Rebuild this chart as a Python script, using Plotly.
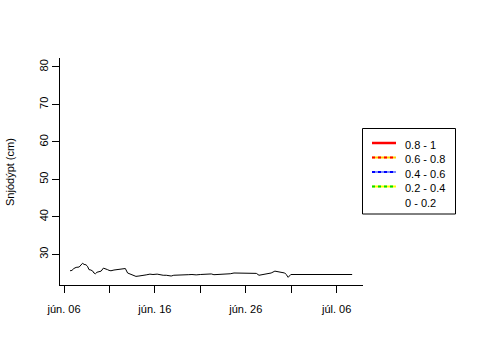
import plotly.graph_objects as go

# ---- data ----
times = [
    "2013-06-06 16:00", "2013-06-06 21:00", "2013-06-07 02:00", "2013-06-07 08:00",
    "2013-06-07 16:00", "2013-06-07 21:00", "2013-06-08 01:00", "2013-06-08 05:00",
    "2013-06-08 10:00", "2013-06-08 14:00", "2013-06-08 18:00", "2013-06-08 23:00",
    "2013-06-09 04:00", "2013-06-09 07:00", "2013-06-09 11:00", "2013-06-09 15:00",
    "2013-06-09 21:00", "2013-06-10 02:00", "2013-06-10 08:00", "2013-06-10 12:00",
    "2013-06-10 19:00", "2013-06-10 23:00", "2013-06-11 04:00", "2013-06-11 12:00",
    "2013-06-11 20:00", "2013-06-12 04:00", "2013-06-12 11:00", "2013-06-12 18:00",
    "2013-06-13 00:00", "2013-06-13 06:00", "2013-06-13 14:00", "2013-06-13 22:00",
    "2013-06-14 06:00", "2013-06-14 14:00", "2013-06-15 01:00", "2013-06-15 11:00",
    "2013-06-15 19:00", "2013-06-16 06:00", "2013-06-16 14:00", "2013-06-16 22:00",
    "2013-06-17 06:00", "2013-06-17 13:00", "2013-06-17 19:00", "2013-06-18 02:00",
    "2013-06-18 13:00", "2013-06-18 21:00", "2013-06-19 05:00", "2013-06-19 16:00",
    "2013-06-20 02:00", "2013-06-20 13:00", "2013-06-21 00:00", "2013-06-21 10:00",
    "2013-06-21 21:00", "2013-06-22 05:00", "2013-06-22 12:00", "2013-06-22 23:00",
    "2013-06-23 07:00", "2013-06-23 18:00", "2013-06-24 07:00", "2013-06-24 17:00",
    "2013-06-25 09:00", "2013-06-26 01:00", "2013-06-26 17:00", "2013-06-27 04:00",
    "2013-06-27 11:00", "2013-06-27 22:00", "2013-06-28 11:00", "2013-06-28 19:00",
    "2013-06-29 05:00", "2013-06-29 11:00", "2013-06-29 18:00", "2013-06-30 00:00",
    "2013-06-30 07:00", "2013-06-30 11:00", "2013-06-30 16:00", "2013-06-30 23:00",
    "2013-07-02 12:00", "2013-07-04 12:00", "2013-07-06 12:00", "2013-07-07 17:00",
]
snow_depth = [
    25.6, 25.7, 26.2, 26.5,
    26.6, 27.2, 27.6, 27.3,
    27.2, 26.8, 25.9, 25.8,
    25.5, 25.0, 24.8, 25.2,
    25.3, 25.5, 26.3, 26.2,
    25.9, 25.7, 25.6, 25.8,
    25.9, 26.0, 26.2, 26.2,
    25.0, 24.8, 24.55, 24.1,
    24.2, 24.4, 24.5, 24.7,
    24.6, 24.7, 24.5, 24.4,
    24.4, 24.2, 24.2, 24.4,
    24.5, 24.4, 24.5, 24.55,
    24.6, 24.5, 24.6, 24.7,
    24.7, 24.75, 24.55, 24.6,
    24.55, 24.8, 24.8, 25.0,
    25.0, 25.0, 25.0, 24.9,
    24.4, 24.55, 24.8, 25.0,
    25.5, 25.4, 25.3, 25.2,
    25.0, 24.6, 23.85, 24.6,
    24.6, 24.6, 24.6, 24.6,
]

x_tick_vals = ["2013-06-06", "2013-06-11", "2013-06-16", "2013-06-21",
               "2013-06-26", "2013-07-01", "2013-07-06"]
x_tick_text = ["jún. 06", "", "jún. 16", "", "jún. 26", "", "júl. 06"]
y_tick_vals = [30, 40, 50, 60, 70, 80]
y_title = "Snjódýpt (cm)"

legend_labels = ["0.8 - 1", "0.6 - 0.8", "0.4 - 0.6", "0.2 - 0.4", "0 - 0.2"]

FONT = "Arial, Liberation Sans, sans-serif"

# ---- layout geometry (pixels) ----
W, H = 480, 360
PL, PR, PT, PB = 60, 363, 58, 285


def px_x(px):
    return (px - PL) / (PR - PL)


def px_y(py):
    return (PB - py) / (PB - PT)


fig = go.Figure()
fig.add_trace(go.Scatter(
    x=times, y=snow_depth, mode="lines",
    line=dict(color="black", width=1), showlegend=False, hoverinfo="skip",
))

shapes = []
annotations = []

# y axis title
annotations.append(dict(xref="paper", yref="paper", x=px_x(10), y=px_y(172),
                        text=y_title, textangle=-90, showarrow=False,
                        xanchor="center", yanchor="middle",
                        font=dict(family=FONT, size=11, color="black")))

# legend box
shapes.append(dict(type="rect", xref="paper", yref="paper",
                   x0=px_x(362.5), x1=px_x(455.5), y0=px_y(214), y1=px_y(128.5),
                   line=dict(color="black", width=1), fillcolor="white", layer="above"))

row_y = [144, 158.5, 173, 187.5, 202]
line_styles = [
    [("red", "solid", 2.5)],
    [("#ffd000", "solid", 2), ("red", "dot", 2)],
    [("#8090ff", "solid", 2), ("blue", "dot", 2)],
    [("yellow", "solid", 2), ("#00e000", "dot", 2)],
    [],
]
for i, lab in enumerate(legend_labels):
    for col, dash, w in line_styles[i]:
        shapes.append(dict(type="line", xref="paper", yref="paper",
                           x0=px_x(372), x1=px_x(396), y0=px_y(row_y[i] - 1), y1=px_y(row_y[i] - 1),
                           line=dict(color=col, width=w, dash=dash), layer="above"))
    annotations.append(dict(xref="paper", yref="paper", x=px_x(403), y=px_y(row_y[i] + 0.5),
                            text=lab, showarrow=False, xanchor="left", yanchor="middle",
                            font=dict(family=FONT, size=11, color="black")))

fig.update_layout(
    width=W, height=H,
    margin=dict(l=PL, r=W - PR, t=PT, b=H - PB, autoexpand=False),
    plot_bgcolor="white", paper_bgcolor="white",
    font=dict(family=FONT, size=11, color="black"),
    showlegend=False,
    shapes=shapes, annotations=annotations,
    xaxis=dict(
        type="date",
        range=["2013-06-05 13:26", "2013-07-08 21:40"],
        tickvals=x_tick_vals, ticktext=x_tick_text,
        showline=True, linecolor="black", linewidth=1,
        ticks="outside", ticklen=7, tickcolor="black", tickwidth=1,
        ticklabelstandoff=7, automargin=False,
        showgrid=False, zeroline=False,
        tickfont=dict(family=FONT, size=11, color="black"),
    ),
    yaxis=dict(
        range=[21.8, 82.4],
        tickvals=y_tick_vals, ticktext=[str(v) for v in y_tick_vals],
        tickangle=-90, automargin=False,
        showline=True, linecolor="black", linewidth=1,
        ticks="outside", ticklen=7, tickcolor="black", tickwidth=1,
        showgrid=False, zeroline=False,
        tickfont=dict(family=FONT, size=11, color="black"),
    ),
)

fig.write_html("out.html")
